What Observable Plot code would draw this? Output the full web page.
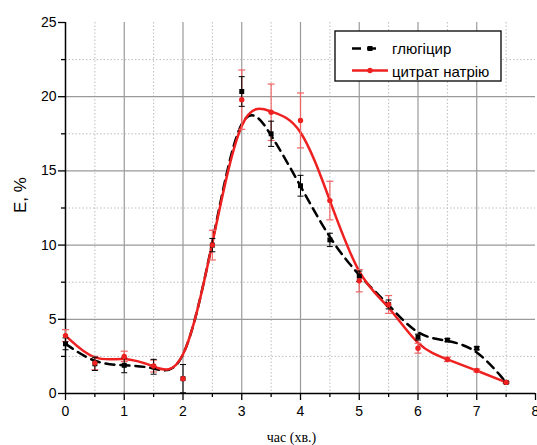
<!DOCTYPE html>
<html><head><meta charset="utf-8">
<script src="https://cdn.jsdelivr.net/npm/d3@7"></script>
<script src="https://cdn.jsdelivr.net/npm/@observablehq/plot@0.6"></script>
<style>body{margin:0;background:#fff}</style>
</head><body><div id="chart"></div>
<script>
const times = [0, 0.5, 1, 1.5, 2, 2.5, 3, 3.5, 4, 4.5, 5, 5.5, 6, 6.5, 7, 7.5];
const seriesNames = ["глюгіцир", "цитрат натрію"];
const glugicir    = [3.35, 2.0, 1.9, 1.8, 1.0, 10.0, 20.35, 17.5, 14.0, 10.35, 7.9, 6.0, 3.8, 3.6, 3.05, 0.75];
const glugicirErr = [0.4, 0.45, 0.5, 0.5, 0.95, 0.45, 1.0, 0.85, 0.7, 0.45, 0.35, 0.3, 0.2, 0.1, 0.1, 0.05];
const citrate     = [3.9, 2.05, 2.5, 1.85, 1.0, 10.0, 19.8, 18.95, 18.4, 13.0, 7.6, 6.0, 3.05, 2.3, 1.55, 0.75];
const citrateErr  = [0.4, 0.45, 0.35, 0.4, 0, 1.0, 2.0, 1.9, 1.85, 1.3, 0.75, 0.6, 0.33, 0.15, 0.1, 0.05];
const xTicks = [0, 1, 2, 3, 4, 5, 6, 7, 8];
const xMinorTicks = [0.5, 1.5, 2.5, 3.5, 4.5, 5.5, 6.5, 7.5];
const yTicks = [0, 5, 10, 15, 20, 25];
const yMinorTicks = [2.5, 7.5, 12.5, 17.5, 22.5];
const xLabel = "час (хв.)";
const yLabel = "E, %";

const black = times.map((t, i) => ({t, v: glugicir[i], e: glugicirErr[i]}));
const red = times.map((t, i) => ({t, v: citrate[i], e: citrateErr[i]}));
const RED = "#ee2020", REDERR = "#f06464";

const cap = w => ({draw(ctx) { ctx.moveTo(-w, 0); ctx.lineTo(w, 0); }});

function errMarks(data, color, w, sw) {
  const d = data.filter(p => p.e > 0);
  return [
    Plot.ruleX(d, {x: "t", y1: p => p.v - p.e, y2: p => p.v + p.e, stroke: color, strokeWidth: sw}),
    Plot.dot(d, {x: "t", y: p => p.v + p.e, symbol: cap(w), stroke: color, strokeWidth: sw, fill: "none"}),
    Plot.dot(d, {x: "t", y: p => p.v - p.e, symbol: cap(w), stroke: color, strokeWidth: sw, fill: "none"})
  ];
}

const chart = Plot.plot({
  width: 537, height: 445,
  marginLeft: 65, marginRight: 2, marginTop: 22, marginBottom: 52,
  x: {domain: [0, 8]},
  y: {domain: [0, 25]},
  style: {fontFamily: "'Liberation Sans', Arial, sans-serif", fontSize: "14px", background: "white", color: "black", overflow: "visible"},
  marks: [
    Plot.gridX({ticks: xMinorTicks, stroke: "#bdbdbd", strokeOpacity: 1, strokeDasharray: "1.5,2"}),
    Plot.gridY({ticks: yMinorTicks, stroke: "#bdbdbd", strokeOpacity: 1, strokeDasharray: "1.5,2"}),
    Plot.gridX({ticks: xTicks.filter(t => t > 0 && t < 8), stroke: "#9a9a9a", strokeOpacity: 1, strokeWidth: 1.2}),
    Plot.gridY({ticks: yTicks.filter(t => t > 0 && t < 25), stroke: "#9a9a9a", strokeOpacity: 1, strokeWidth: 1.2}),
    Plot.axisY({ticks: yTicks, tickSize: 7, tickPadding: 2, label: null, strokeWidth: 1.3}),
    Plot.axisY({ticks: yMinorTicks, tickSize: 4, tickFormat: () => "", label: null, strokeWidth: 1.3}),
    Plot.axisX({ticks: xTicks, tickSize: 7, tickPadding: 6, label: null, strokeWidth: 1.3}),
    Plot.axisX({ticks: xMinorTicks, tickSize: 4, tickFormat: () => "", label: null, strokeWidth: 1.3}),
    Plot.ruleX([0], {stroke: "black", strokeWidth: 1.5}),
    Plot.ruleY([0], {stroke: "black", strokeWidth: 1.5}),
    Plot.line(black, {x: "t", y: "v", curve: "basis", stroke: "black", strokeWidth: 2.5, strokeDasharray: "9,6"}),
    Plot.line(red, {x: "t", y: "v", curve: "basis", stroke: RED, strokeWidth: 2.5}),
    ...errMarks(red, REDERR, 3.5, 1.2),
    ...errMarks(black, "black", 3, 1),
    Plot.dot(black, {x: "t", y: "v", symbol: "square", r: 2.8, fill: "black", stroke: "none"}),
    Plot.dot(red, {x: "t", y: "v", r: 2.7, fill: RED, stroke: "none"}),
    Plot.text([xLabel], {text: d => d, frameAnchor: "bottom", lineAnchor: "middle", dy: 44, dx: -9, fontFamily: "'Liberation Serif', 'Times New Roman', serif", fontSize: 14}),
    Plot.text([yLabel], {text: d => d, frameAnchor: "left", lineAnchor: "middle", rotate: -90, dx: -45, dy: 5, fontSize: 17})
  ]
});
document.getElementById("chart").appendChild(chart);

// legend
const svg = d3.select(chart);
const lg = svg.append("g").attr("text-anchor", "start");
lg.append("rect").attr("x", 335).attr("y", 31).attr("width", 166).attr("height", 50)
  .attr("fill", "white").attr("stroke", "black").attr("stroke-width", 1.3);
lg.append("line").attr("x1", 352).attr("x2", 382).attr("y1", 48.5).attr("y2", 48.5)
  .attr("stroke", "black").attr("stroke-width", 2.5).attr("stroke-dasharray", "9,6");
lg.append("rect").attr("x", 367.5).attr("y", 46).attr("width", 5).attr("height", 5).attr("fill", "black");
lg.append("line").attr("x1", 352).attr("x2", 388).attr("y1", 70.5).attr("y2", 70.5)
  .attr("stroke", RED).attr("stroke-width", 2.5);
lg.append("circle").attr("cx", 370).attr("cy", 70.5).attr("r", 2.7).attr("fill", RED);
seriesNames.forEach((name, i) => {
  lg.append("text").attr("x", 392).attr("y", i === 0 ? 54 : 76.5)
    .attr("text-anchor", "start").attr("font-size", 15).attr("fill", "black").text(name);
});
</script>
</body></html>
